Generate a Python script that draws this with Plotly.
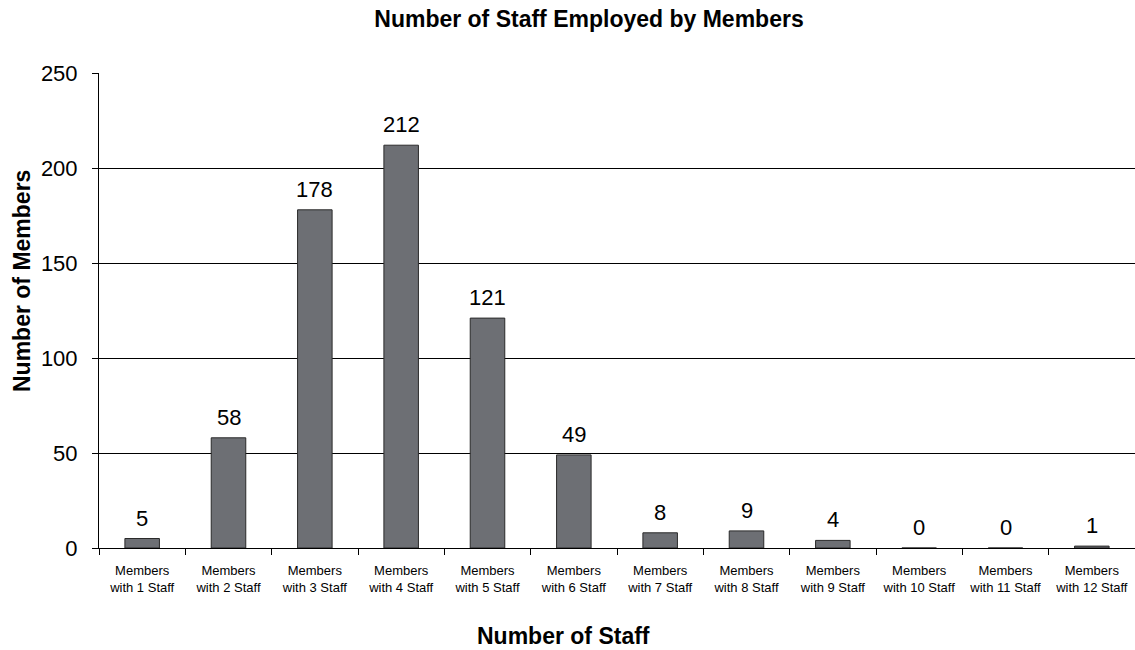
import plotly.graph_objects as go

categories = ["Members<br>with 1 Staff", "Members<br>with 2 Staff", "Members<br>with 3 Staff",
              "Members<br>with 4 Staff", "Members<br>with 5 Staff", "Members<br>with 6 Staff",
              "Members<br>with 7 Staff", "Members<br>with 8 Staff", "Members<br>with 9 Staff",
              "Members<br>with 10 Staff", "Members<br>with 11 Staff", "Members<br>with 12 Staff"]
members = [5, 58, 178, 212, 121, 49, 8, 9, 4, 0, 0, 1]
y_ticks = [0, 50, 100, 150, 200, 250]

font_family = "Liberation Sans, Arial, sans-serif"

W, H = 1135, 650
M_L, M_R, M_T, M_B = 99, 0, 73, 102
plot_w = W - M_L - M_R
plot_h = H - M_T - M_B


def px_to_paper_x(px):
    return (px - M_L) / plot_w


def px_to_paper_y(py):
    return (H - M_B - py) / plot_h


fig = go.Figure(go.Bar(
    x=categories,
    y=members,
    marker=dict(color="#6d6f74", line=dict(color="#2a2a2a", width=1)),
    width=0.4,
))

# value labels sitting a little above each bar
for cat, val in zip(categories, members):
    fig.add_annotation(
        x=cat, y=val, xref="x", yref="y",
        text=str(val), showarrow=False,
        yanchor="bottom", yshift=6,
        font=dict(family=font_family, size=22, color="#000000"),
    )

# axis titles
fig.add_annotation(
    x=px_to_paper_x(563), y=px_to_paper_y(636), xref="paper", yref="paper",
    xanchor="center", yanchor="middle",
    text="<b>Number of Staff</b>", showarrow=False,
    font=dict(size=23, color="#000000"),
)
fig.add_annotation(
    x=px_to_paper_x(22), y=px_to_paper_y(281), xref="paper", yref="paper",
    xanchor="center", yanchor="middle",
    text="<b>Number of Members</b>", textangle=-90, showarrow=False,
    font=dict(size=23, color="#000000"),
)

fig.update_layout(
    width=W, height=H,
    margin=dict(l=M_L, r=M_R, t=M_T, b=M_B),
    paper_bgcolor="white", plot_bgcolor="white",
    font=dict(family=font_family, color="#000000"),
    title=dict(text="<b>Number of Staff Employed by Members</b>", x=589 / W, xanchor="center",
               y=1 - 19 / H, yanchor="middle", font=dict(size=23)),
    showlegend=False,
)

fig.update_xaxes(
    type="category",
    tickson="boundaries", ticks="outside", ticklen=6, tickcolor="#000000",
    showline=True, linecolor="#000000", linewidth=1,
    tickfont=dict(size=13), ticklabelstandoff=10,
    showgrid=False,
)
fig.update_yaxes(
    range=[0, 250], tickvals=y_ticks,
    ticks="outside", ticklen=6, tickcolor="#000000",
    showline=True, linecolor="#000000", linewidth=1,
    showgrid=True, gridcolor="#000000", gridwidth=1,
    zeroline=False,
    tickfont=dict(size=22), ticklabelstandoff=10,
)

fig.write_html("out.html")
